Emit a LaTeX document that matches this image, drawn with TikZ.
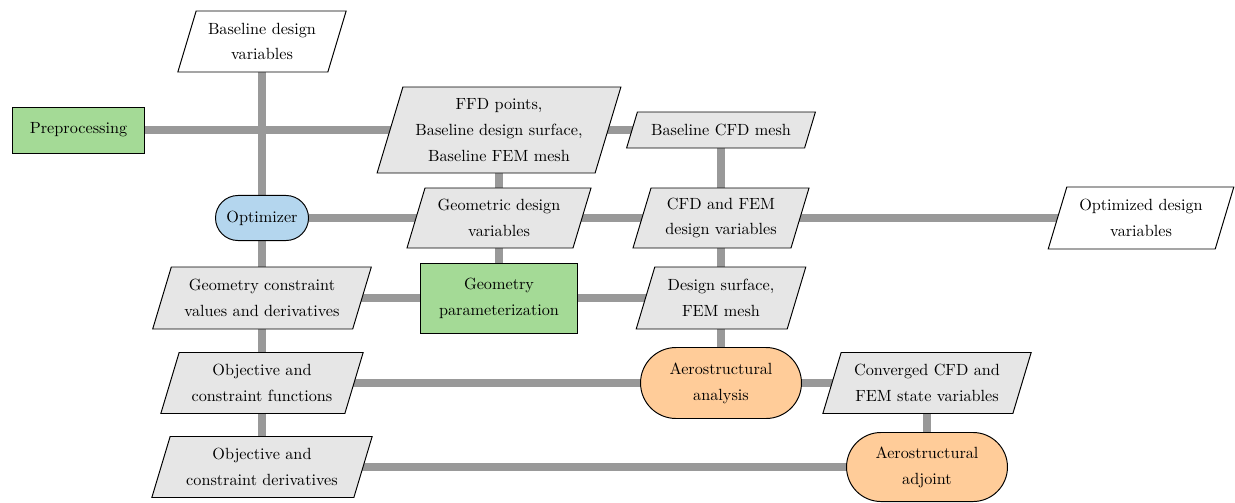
\documentclass[tikz,border=0pt]{standalone}
\pgfdeclarelayer{conn}
\pgfdeclarelayer{shape}
\pgfsetlayers{conn,shape,main}
\definecolor{funcgreen}{RGB}{164,218,150}
\definecolor{optblue}{RGB}{180,214,238}
\definecolor{anaorange}{RGB}{255,204,153}
\definecolor{datagray}{RGB}{230,230,230}
\definecolor{conngray}{RGB}{153,153,153}
\tikzset{
  txt/.style={align=center, inner sep=0pt, font=\linespread{1.33}\selectfont},
  shapeline/.style={draw=black, line width=0.6pt},
  proc/.style={txt, shapeline},
  conn/.style={draw=conngray, line width=5pt},
}
% name, x, y, width, height, fill, text
\newcommand{\datanode}[7]{%
  \node[txt] (#1) at (#2,#3) {#7};
  \pgfmathsetmacro{\dsl}{0.15*#5}%
  \begin{pgfonlayer}{shape}
    \draw[shapeline, fill=#6] ([shift={(-#4/2+\dsl,-#5/2)}]#1.center) -- ++(#4,0) -- ++(-2*\dsl,#5) -- ++(-#4,0) -- cycle;
  \end{pgfonlayer}%
}
\begin{document}
\begin{tikzpicture}[x=0.617pt,y=-0.617pt]
\useasboundingbox (0,0) rectangle (1235,502);

% data nodes
\datanode{bdv}{262}{41.5}{150}{61}{white}{Baseline design\\variables}
\datanode{ffd}{499}{130}{218}{86}{datagray}{FFD points,\\Baseline design surface,\\Baseline FEM mesh}
\datanode{bcfd}{721}{130}{178}{36}{datagray}{Baseline CFD mesh}
\datanode{gdv}{499}{218}{166}{60}{datagray}{Geometric design\\variables}
\datanode{cfdv}{721}{218}{158}{60}{datagray}{CFD and FEM\\design variables}
\datanode{odv}{1141}{218}{167}{62}{white}{Optimized design\\variables}
\datanode{gcv}{262}{298}{200}{62}{datagray}{Geometry constraint\\values and derivatives}
\datanode{dsf}{721}{298}{151}{62}{datagray}{Design surface,\\FEM mesh}
\datanode{ocf}{262}{383}{184}{61}{datagray}{Objective and\\constraint functions}
\datanode{conv}{927}{383}{190}{61}{datagray}{Converged CFD and\\FEM state variables}
\datanode{ocd}{262}{467}{202}{61}{datagray}{Objective and\\constraint derivatives}

% process nodes
\node[proc, fill=funcgreen, minimum width=82pt, minimum height=28.4pt] (prep) at (78.5,130) {Preprocessing};
\node[proc, fill=optblue, minimum width=57.4pt, minimum height=27.8pt, rounded corners=13.9pt] (opt) at (262,218) {Optimizer};
\node[proc, fill=funcgreen, minimum width=96.9pt, minimum height=43.2pt] (gp) at (499,298) {Geometry\\parameterization};
\node[proc, fill=anaorange, minimum width=99.3pt, minimum height=43.8pt, rounded corners=21.9pt] (aero) at (721,383) {Aerostructural\\analysis};
\node[proc, fill=anaorange, minimum width=99.3pt, minimum height=42.6pt, rounded corners=21.3pt] (adj) at (927,467) {Aerostructural\\adjoint};

% connectors
\begin{pgfonlayer}{conn}
\draw[conn] (bdv.center) -- (ocd.center);
\draw[conn] (prep.center) -- (bcfd.center);
\draw[conn] (opt.center) -- (odv.center);
\draw[conn] (ffd.center) -- (gp.center);
\draw[conn] (bcfd.center) -- (aero.center);
\draw[conn] (gcv.center) -- (dsf.center);
\draw[conn] (ocf.center) -- (conv.center);
\draw[conn] (conv.center) -- (adj.center);
\draw[conn] (ocd.center) -- (adj.center);
\end{pgfonlayer}
\end{tikzpicture}
\end{document}
